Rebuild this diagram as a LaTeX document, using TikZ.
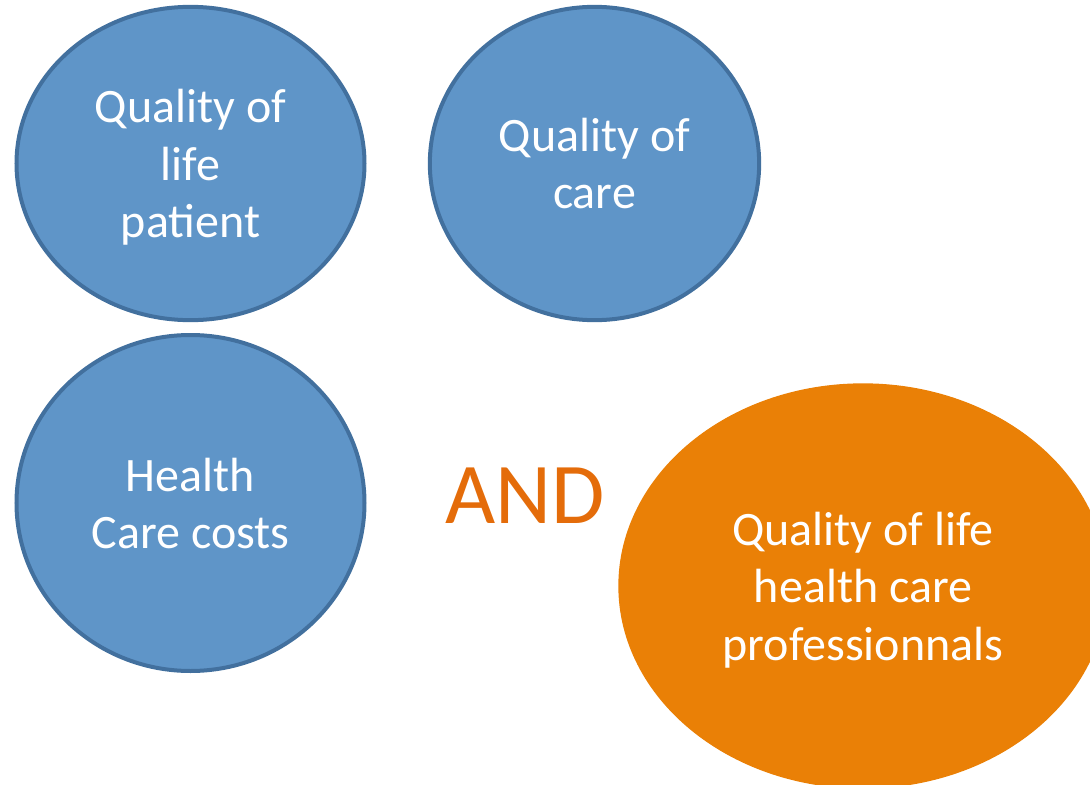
\documentclass[tikz,border=0pt]{standalone}
\usepackage{fontspec}
\setmainfont{Carlito}
\usetikzlibrary{shapes.geometric}

\definecolor{bluefill}{RGB}{95,149,200}
\definecolor{blueline}{RGB}{66,112,158}
\definecolor{orangefill}{RGB}{234,128,6}
\definecolor{andtext}{RGB}{228,108,10}

\tikzset{every picture/.style={line width=0.75pt}}
\tikzset{
  bluebubble/.style={ellipse, draw=blueline, fill=bluefill, line width=3pt, text=white, align=center, inner sep=0pt, text depth=0pt, font=\fontsize{36}{43}\selectfont},
  orangebubble/.style={ellipse, draw=orangefill, fill=orangefill, line width=1pt, text=white, align=center, inner sep=0pt, text depth=0pt, font=\fontsize{36}{43}\selectfont}
}

\begin{document}
\begin{tikzpicture}[x=0.75pt,y=0.75pt,yscale=-1,xscale=1]
		\useasboundingbox (0,0) rectangle (1090,785);
		
		%Shape: Ellipse [id:qolpatient]
		\node (qolpatient) [bluebubble, minimum width=261pt, minimum height=235pt] at (190.5,163.5) {Quality of\\life\\patient};
		%Shape: Ellipse [id:qolcare]
		\node (qolcare) [bluebubble, minimum width=247pt, minimum height=235pt] at (594.5,163.5) {Quality of\\care};
		%Shape: Ellipse [id:carecosts]
		\node (carecosts) [bluebubble, minimum width=261pt, minimum height=252pt] at (190.5,503) {Health\\Care costs};
		%Shape: Ellipse [id:qolprof]
		\node (qolprof) [orangebubble, minimum width=366pt, minimum height=303pt] at (863,586) {Quality of life\\health care\\professionnals};
		
		\draw (525,496) node [inner sep=0.75pt] [text=andtext, font=\fontsize{65}{74}\selectfont] (andword) {AND};
		
\end{tikzpicture}
\end{document}
